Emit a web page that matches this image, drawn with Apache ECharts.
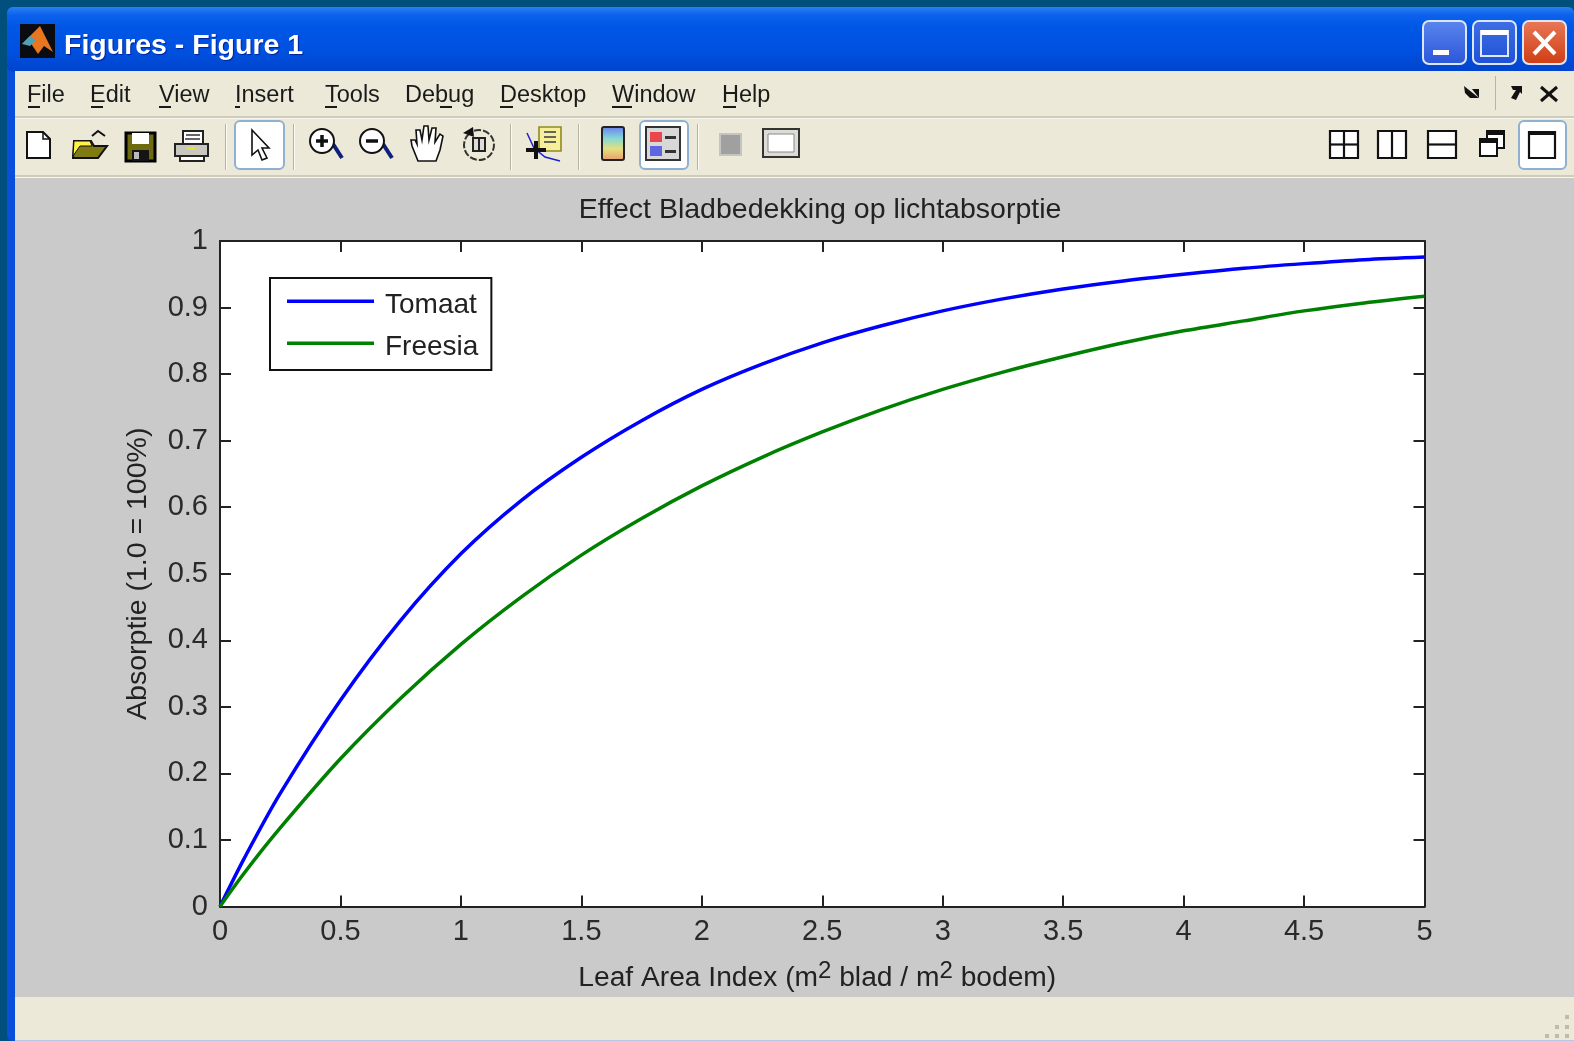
<!DOCTYPE html>
<html><head><meta charset="utf-8">
<style>html,body{margin:0;padding:0;background:#004f7c}#c{width:1574px;height:1041px}</style>
<script src="https://cdn.jsdelivr.net/npm/echarts@6/dist/echarts.min.js"></script>
</head><body><div id="c"></div>
<script>
const xValues   = [0,0.1,0.25,0.5,0.75,1,1.25,1.5,1.75,2,2.25,2.5,2.75,3,3.25,3.5,3.75,4,4.25,4.5,4.75,5];
const tomaat    = [0,0.072,0.17,0.31,0.43,0.53,0.61,0.675,0.73,0.777,0.815,0.847,0.873,0.895,0.913,0.928,0.94,0.95,0.959,0.966,0.972,0.976];
const freesia   = [0,0.05,0.118,0.222,0.313,0.394,0.465,0.528,0.583,0.632,0.675,0.713,0.747,0.777,0.803,0.826,0.847,0.865,0.88,0.895,0.907,0.917];
const seriesNames = ['Tomaat','Freesia'];
const chartTitle = 'Effect Bladbedekking op lichtabsorptie';
const yTitle = 'Absorptie (1.0 = 100%)';
const windowTitle = 'Figures - Figure 1';
const menuItems = ['File','Edit','View','Insert','Tools','Debug','Desktop','Window','Help'];

const FONT='"Liberation Sans",Arial,sans-serif';
const G=[];
const rect=(x,y,w,h,fill,stroke,lw,r)=>G.push({type:'rect',z:0,silent:true,shape:{x,y,width:w,height:h,r:r||0},style:{fill:fill||'none',stroke:stroke||null,lineWidth:lw||1}});
const poly=(pts,fill,stroke,lw)=>G.push({type:'polygon',z:0,silent:true,shape:{points:pts},style:{fill:fill||'none',stroke:stroke||null,lineWidth:lw||1}});
const pl=(pts,stroke,lw)=>G.push({type:'polyline',z:0,silent:true,shape:{points:pts},style:{fill:'none',stroke,lineWidth:lw||1}});
const circ=(cx,cy,r,fill,stroke,lw)=>G.push({type:'circle',z:0,silent:true,shape:{cx,cy,r},style:{fill:fill||'none',stroke:stroke||null,lineWidth:lw||1}});
const txt=(t,x,y,font,fill,extra)=>G.push({type:'text',z:1,silent:true,style:Object.assign({text:t,x,y,font,fill,textVerticalAlign:'middle'},extra||{})});
const lg=(stops)=>new echarts.graphic.LinearGradient(0,0,0,1,stops.map((c,i)=>({offset:c[0],color:c[1]})));

// frame
rect(0,0,1574,1041,'#004f7c');
rect(7,7,1567,1034,'#0a4fdc',null,0,6);
rect(7,7,1567,65,lg([[0,'#2a80f2'],[0.12,'#0d62ec'],[0.3,'#0057e6'],[0.7,'#0050e0'],[1,'#0043cc']]),null,0,6);
rect(15,71,1559,46,'#ece9d8');
rect(15,117,1559,60,'#ece9d8');
rect(15,116,1559,2,'#cfccba');
rect(15,118,1559,1,'#f7f6ef');
rect(15,175,1559,2,'#cfccba');
rect(15,177,1559,1,'#f7f6ef');
rect(15,178,1559,819,'#cacaca');
rect(15,997,1559,44,'#ece9d8');
rect(15,1040,1559,1,'#b9c6e8');

// logo
rect(20,24,35,34,'#0b0b12');
poly([[40,26],[53,52],[44,46],[38,54],[30,42],[22,44]],'#e8761e');
poly([[22,44],[30,36],[36,40],[30,46]],'#4f9fb5');
txt(windowTitle,64,46,'bold 28.5px '+FONT,'#ffffff',{textShadowColor:'#00209a',textShadowBlur:1,textShadowOffsetX:1,textShadowOffsetY:1});

// window buttons
const btn=(x,c1,c2)=>rect(x,21,43,43,lg([[0,c1],[1,c2]]),'#dbe6fb',2,6);
btn(1423,'#5c86ee','#2a55d8'); rect(1433,50,16,5,'#ffffff');
btn(1473,'#3f70e6','#1f50d4'); rect(1481,31,27,25,'none','#dfe8ff',2); rect(1481,30,27,5,'#ffffff');
btn(1523,'#e8795a','#cf3c12');
pl([[1534,32],[1555,54]],'#ffffff',4); pl([[1555,32],[1534,54]],'#ffffff',4);

// menu
const menuX=[27,90,159,235,325,405,500,612,722];
const ulX=[[28,12],[91,12],[159,12],[235,5],[325,12],[440,12],[500,13],[612,20],[723,13]];
menuItems.forEach((m,i)=>{txt(m,menuX[i],96,'23.5px '+FONT,'#1a1a1a'); rect(ulX[i][0],106,ulX[i][1],2,'#1a1a1a');});
poly([[1464,86],[1479,98],[1470,98],[1465,93]],'#111'); poly([[1472,89],[1479,89],[1479,98]],'#111');
rect(1495,76,1,34,'#b8b5a3');
poly([[1522,86],[1511,86],[1513,90],[1516,90],[1511,98],[1516,100],[1520,92],[1522,94]],'#111');
pl([[1541,87],[1557,101]],'#111',3); pl([[1557,87],[1541,101]],'#111',3);

// toolbar separators
[225,293,510,578,697].forEach(x=>{rect(x,124,1,46,'#b5b2a0');rect(x+1,124,1,46,'#fbfaf3');});
// new
poly([[27,132],[43,132],[50,139],[50,158],[27,158]],'#ffffff','#111',2); pl([[43,132],[43,139],[50,139]],'#111',1.5);
// open
poly([[74,141],[91,141],[94,146],[107,146],[98,158],[73,158]],'#7f7a12','#111',2);
poly([[74,141],[90,141],[92,146],[80,146],[73,156]],'#fff04a','#111',1);
pl([[92,136],[98,131],[105,136]],'#111',2);
// save
rect(126,133,29,28,'#6e6a10','#000',3); rect(132,133,17,11,'#ffffff'); rect(132,150,17,11,'#151515'); rect(134,152,5,7,'#bbb');
// print
rect(183,131,20,14,'#ffffff','#222',2); pl([[186,135],[200,135]],'#333',1.5); pl([[185,139],[200,139]],'#333',1.5);
rect(175,144,33,12,'#c8c8c0','#222',2); rect(180,156,24,5,'#fff','#222',2); rect(187,147,8,3,'#e6e030');
// arrow button
rect(235,121,49,48,'#ffffff','#8fb0d0',2,5);
poly([[252,130],[269,148],[262,148],[267,158],[262,160],[258,150],[252,155]],'#ffffff','#111',1.6);
// zoom in/out
const mag=(cx,sign)=>{pl([[cx+11,144],[cx+20,158]],'#0f1f7f',4);circ(cx,141,12,'#ffffff','#111',2);pl([[cx-6,141],[cx+6,141]],'#111',3.5);if(sign)pl([[cx,135],[cx,147]],'#111',3.5);};
mag(322,true); mag(372,false);
// hand
poly([[418,161],[412,146],[411,140],[415,140],[417,144],[416,130],[420,130],[422,140],[424,126],[428,126],[429,140],[432,128],[436,128],[435,142],[440,134],[443,136],[440,150],[436,161]],'#ffffff','#111',1.6);
// rotate
G.push({type:'arc',z:0,silent:true,shape:{cx:479,cy:145,r:15,startAngle:-1.9,endAngle:4.0},style:{fill:'none',stroke:'#333',lineWidth:2,lineDash:[7,2]}});
poly([[463,133],[473,127],[474,137]],'#111');
rect(473,138,12,13,'#dcdcd8','#222',2); pl([[479,138],[479,151]],'#222',2);
// data cursor
rect(539,127,22,24,'#f6ee9a','#8f8a20',1.6);
[132,137,142].forEach(y=>pl([[544,y],[556,y]],'#444',1.6));
pl([[527,133],[534,148],[545,157],[560,161]],'#2020d0',1.5);
pl([[526,150],[546,150]],'#111',4); pl([[536,141],[536,159]],'#111',4);
// colorbar
rect(602,127,22,33,new echarts.graphic.LinearGradient(0,0,0,1,[{offset:0,color:'#6a7cf0'},{offset:0.35,color:'#84d8d8'},{offset:0.65,color:'#e4e07e'},{offset:1,color:'#ea9a6a'}]),'#222',2,2);
// legend button
rect(640,121,48,48,'#ffffff','#8fb0d0',2,5);
rect(646,127,34,33,'#d8d8d8','#333',2);
rect(650,132,12,10,'#e8484c'); rect(650,146,12,10,'#5f66e0'); rect(665,136,11,3,'#333'); rect(665,150,11,3,'#333');
// grey box, plot tools
rect(720,134,21,21,'#a0a0a0','#c4c4c0',2);
rect(763,129,36,28,'#dcdcd4','#333',2); rect(768,134,26,18,'#ffffff','#888',1);
// layouts
const L=(x)=>rect(x,131,28,27,'#ffffff','#111',2.2);
L(1330); pl([[1344,131],[1344,158]],'#111',2.2); pl([[1330,144.5],[1358,144.5]],'#111',2.2);
L(1378); pl([[1392,131],[1392,158]],'#111',2.2);
L(1428); pl([[1428,144.5],[1456,144.5]],'#111',2.2);
rect(1487,131,17,17,'#ffffff','#111',2); rect(1480,139,17,17,'#ffffff','#111',2); rect(1487,131,17,4,'#111'); rect(1480,139,17,4,'#111');
rect(1519,121,47,48,'#ffffff','#8fb0d0',2,5);
rect(1529,132,26,26,'#ffffff','#111',2.2); rect(1529,131,26,4,'#111');
// grip
[[1565,1015],[1555,1025],[1565,1025],[1545,1034],[1555,1034],[1565,1034]].forEach(p=>rect(p[0],p[1],4,4,'#bfbcab'));

const grid={left:220,top:241,width:1204.5,height:665.5,show:true,backgroundColor:'#ffffff',borderWidth:0,z:2};
const axisLine={show:true,onZero:false,lineStyle:{color:'#222222',width:2}};
const axisTick={show:true,inside:true,length:11,lineStyle:{color:'#222222',width:2}};
const labelStyle={color:'#2a2a2a',fontFamily:FONT,fontSize:29};
const chart=echarts.init(document.getElementById('c'),null,{renderer:'canvas'});
chart.setOption({
  animation:false,
  backgroundColor:'#004f7c',
  graphic:{elements:G},
  title:{text:chartTitle,left:815,top:191,textAlign:'center',textStyle:{color:'#222222',fontFamily:FONT,fontSize:28.5,fontWeight:'normal'}},
  grid,
  legend:{orient:'vertical',left:270,top:278,padding:[13,13,9,17],itemGap:14,itemWidth:87,itemHeight:11,
    icon:'path://M0 0H87V3.5H0Z M0 11H87V11H0Z',
    backgroundColor:'#ffffff',borderColor:'#111111',borderWidth:2,borderRadius:0,
    textStyle:{color:'#222222',fontFamily:FONT,fontSize:28,padding:[0,0,0,6]},data:seriesNames},
  xAxis:[
    {type:'value',z:3,min:0,max:5,interval:0.5,position:'bottom',axisLine,axisTick,splitLine:{show:false},
     axisLabel:Object.assign({margin:11,showMinLabel:true,showMaxLabel:true},labelStyle),
     name:'Leaf Area Index (m{s|2} blad / m{s|2} bodem)',nameLocation:'middle',nameGap:53,
     nameTextStyle:{color:'#222222',fontFamily:FONT,fontSize:28.2,padding:[0,10,0,0],rich:{s:{fontSize:24,color:'#222222',fontFamily:FONT,padding:[0,0,14,0]}}}},
    {type:'value',z:3,min:0,max:5,interval:0.5,position:'top',axisLine,axisTick,axisLabel:{show:false},splitLine:{show:false}}
  ],
  yAxis:[
    {type:'value',z:3,min:0,max:1,interval:0.1,position:'left',axisLine,axisTick,splitLine:{show:false},
     axisLabel:Object.assign({margin:12},labelStyle),
     name:yTitle,nameLocation:'middle',nameGap:67,nameRotate:90,
     nameTextStyle:{color:'#222222',fontFamily:FONT,fontSize:28.5}},
    {type:'value',z:3,min:0,max:1,interval:0.1,position:'right',axisLine,axisTick,axisLabel:{show:false},splitLine:{show:false}}
  ],
  series:[
    {name:seriesNames[0],type:'line',smooth:0.3,showSymbol:false,symbol:'none',color:'#0000ff',lineStyle:{width:3.5,color:'#0000ff'},data:xValues.map((x,i)=>[x,tomaat[i]]),z:4},
    {name:seriesNames[1],type:'line',smooth:0.3,showSymbol:false,symbol:'none',color:'#008000',lineStyle:{width:3.5,color:'#008000'},data:xValues.map((x,i)=>[x,freesia[i]]),z:5}
  ]
});
</script></body></html>
